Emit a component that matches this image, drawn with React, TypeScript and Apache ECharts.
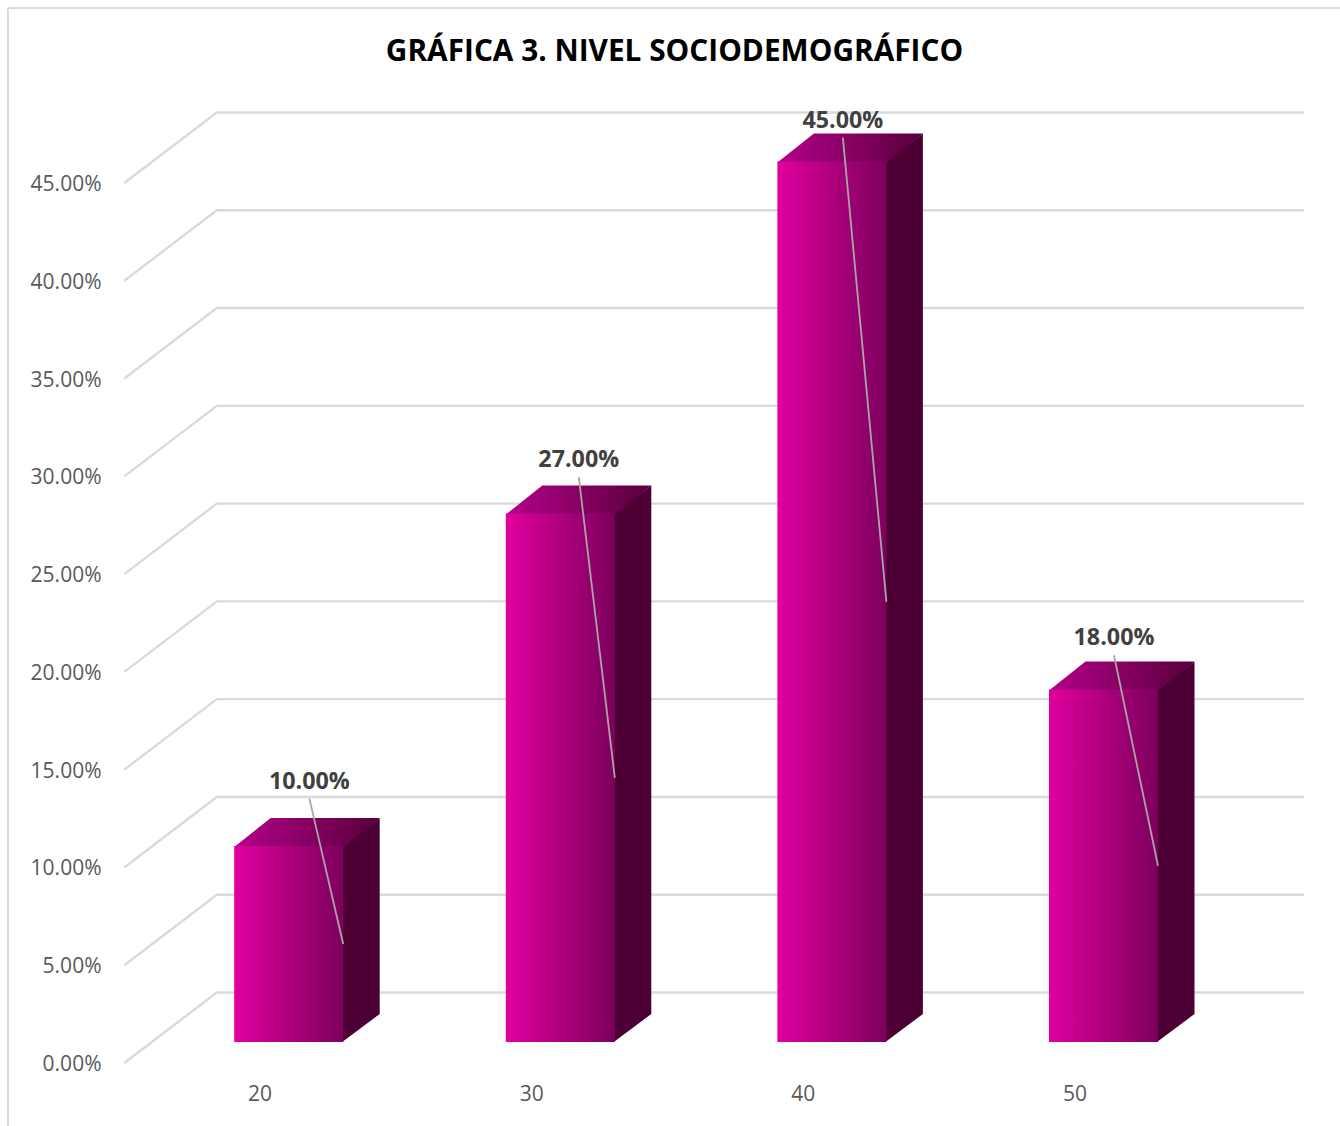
import React, { useEffect, useRef } from "react";
import * as echarts from "echarts";

const title = "GRÁFICA 3. NIVEL SOCIODEMOGRÁFICO";
const categories = ["20", "30", "40", "50"];
const values = [10, 27, 45, 18];
const yTicks = [0, 5, 10, 15, 20, 25, 30, 35, 40, 45];
const labelShiftX = [20.7, 18.5, 11, 10.5];
const labelShiftY = [-66.4, -55.4, -43, -53.4];

const FONT = "'Open Sans', sans-serif";
const GRID_COLOR = "#dadada";
const WALL_DX = 92.5;
const WALL_DY = -70.5;
const WALL_EXTRA = 1;
const BAR_SHIFT_X = 28.6;
const BAR_SHIFT_Y = -21.4;
const BAR_W = 109;
const SIDE_DX = 36.5;
const SIDE_DY = -28;

const pct = (v: number) => v.toFixed(2) + "%";
const hGrad = (a: string, b: string) => new echarts.graphic.LinearGradient(0, 0, 1, 0, [
  { offset: 0, color: a },
  { offset: 1, color: b },
]);

export default function App() {
  const ref = useRef<HTMLDivElement>(null);
  useEffect(() => {
    document.body.style.background = "#fff";
    const chart = echarts.init(ref.current!, null, { renderer: "svg" });
    chart.setOption({
      animation: false,
      backgroundColor: "#ffffff",
      title: {
        text: title,
        left: 674.5,
        top: 29,
        textAlign: "center",
        padding: [5, 10, 5, 0],
        textStyle: { fontFamily: FONT, fontSize: 29.8, fontWeight: 700, color: "#000000" },
      },
      graphic: [
        { type: "line", shape: { x1: 8, y1: 8, x2: 1340, y2: 8 }, style: { stroke: GRID_COLOR, lineWidth: 2 } },
        { type: "line", shape: { x1: 8, y1: 8, x2: 8, y2: 1126 }, style: { stroke: GRID_COLOR, lineWidth: 2 } },
      ],
      grid: { left: 124.3, width: 1086.4, top: 183, height: 880 },
      xAxis: {
        type: "category",
        data: categories,
        axisLine: { show: false },
        axisTick: { show: false },
        axisLabel: { color: "#595959", fontFamily: FONT, fontSize: 21, margin: 19 },
      },
      yAxis: {
        type: "value",
        min: 0,
        max: 45,
        interval: 5,
        splitLine: { show: false },
        axisLine: { show: false },
        axisTick: { show: false },
        axisLabel: {
          color: "#595959",
          fontFamily: FONT,
          fontSize: 21,
          margin: 22.8,
          padding: [2, 0, 0, 0],
          formatter: (v: number) => pct(v),
        },
      },
      series: [
        {
          type: "custom",
          coordinateSystem: "cartesian2d",
          silent: true,
          z: 1,
          data: yTicks.map((t) => [0, t]),
          encode: { x: 0, y: 1 },
          renderItem: (params: any, api: any) => {
            const cs = params.coordSys;
            const y = api.coord([0, api.value(1)])[1];
            return {
              type: "polyline",
              shape: {
                points: [
                  [cs.x, y],
                  [cs.x + WALL_DX, y + WALL_DY],
                  [cs.x + cs.width + WALL_DX + WALL_EXTRA, y + WALL_DY],
                ],
              },
              style: { stroke: GRID_COLOR, lineWidth: 2.4, fill: "none" },
            };
          },
        },
        {
          type: "custom",
          coordinateSystem: "cartesian2d",
          silent: true,
          z: 2,
          data: values.map((v, i) => [i, v]),
          encode: { x: 0, y: 1 },
          renderItem: (params: any, api: any) => {
            const i = params.dataIndex;
            const v = api.value(1);
            const top = api.coord([i, v]);
            const base = api.coord([i, 0]);
            const l = top[0] + BAR_SHIFT_X - BAR_W / 2;
            const r = l + BAR_W;
            const t = top[1] + BAR_SHIFT_Y;
            const b = Math.round(base[1] + BAR_SHIFT_Y);
            const lx = l + BAR_W / 2 + labelShiftX[i];
            const ly = t + labelShiftY[i];
            return {
              type: "group",
              children: [
                {
                  type: "polygon",
                  shape: { points: [[r - 1, t], [r + SIDE_DX, t + SIDE_DY], [r + SIDE_DX, b + SIDE_DY], [r - 1, b]] },
                  style: { fill: "#4d0033" },
                },
                {
                  type: "polygon",
                  shape: { points: [[l, t + 1], [l + SIDE_DX, t + SIDE_DY], [r + SIDE_DX, t + SIDE_DY], [r, t + 1]] },
                  style: { fill: hGrad("#b5008a", "#570039") },
                },
                {
                  type: "rect",
                  shape: { x: l, y: t, width: BAR_W, height: b - t },
                  style: { fill: hGrad("#e0009f", "#7d005c") },
                },
                {
                  type: "line",
                  shape: { x1: lx, y1: ly + 19, x2: r, y2: (t + b) / 2 },
                  style: { stroke: "#a6a6a6", lineWidth: 1.8 },
                },
                {
                  type: "text",
                  style: {
                    text: pct(v),
                    x: lx,
                    y: ly,
                    align: "center",
                    verticalAlign: "middle",
                    fill: "#404040",
                    font: `700 23.3px ${FONT}`,
                  },
                },
              ],
            };
          },
        },
      ],
    });
    return () => chart.dispose();
  }, []);
  return <div ref={ref} style={{ position: "absolute", left: 0, top: 0, width: 1340, height: 1126 }} />;
}
